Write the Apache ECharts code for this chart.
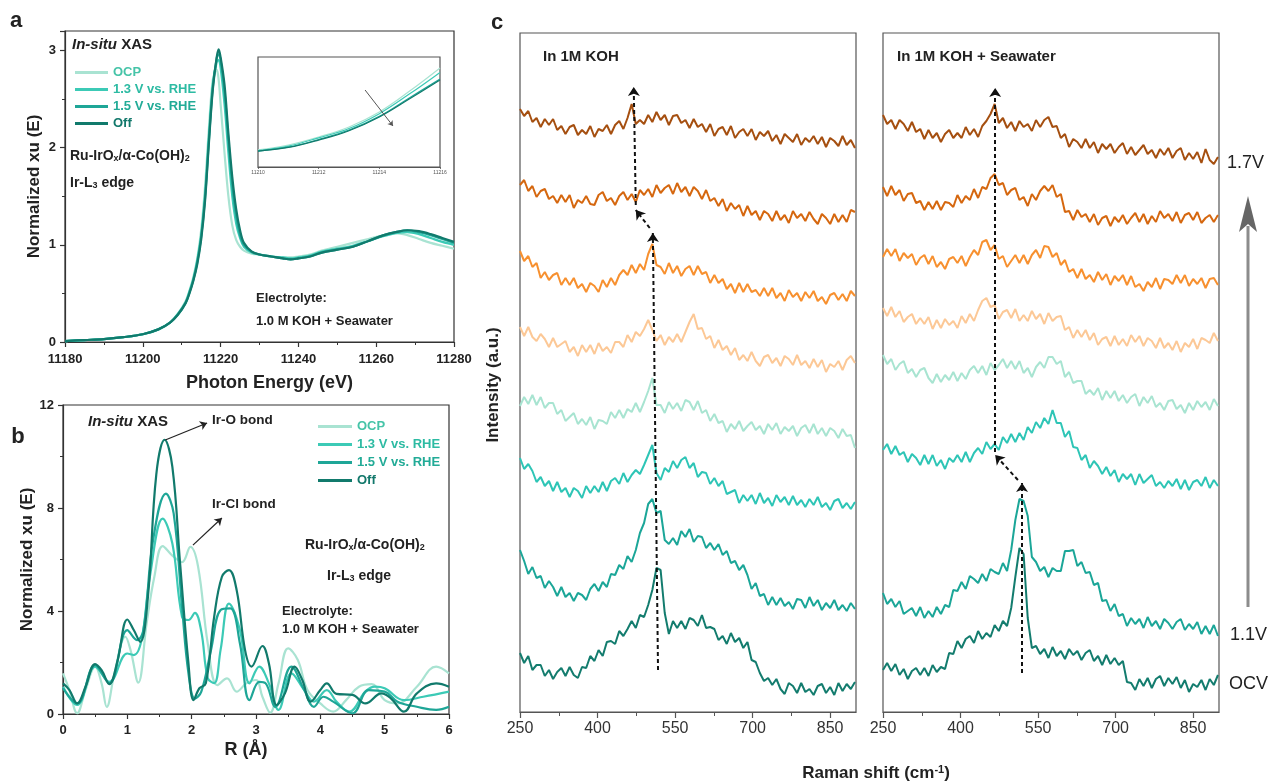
<!DOCTYPE html>
<html>
<head>
<meta charset="utf-8">
<title>In-situ XAS / Raman</title>
<script src="https://cdn.jsdelivr.net/npm/echarts@6/dist/echarts.min.js"></script>
<style>
  html, body { margin: 0; padding: 0; background: #fff; }
  #chart { width: 1272px; height: 783px; }
</style>
</head>
<body>
<div id="chart"></div>
<script>
const FONT = '"Liberation Sans", Arial, Helvetica, sans-serif';

// ---- panel a: Ir L3-edge XANES ----
const xasEnergy = [11180, 11185, 11190, 11195, 11200, 11204, 11207, 11209, 11211, 11212, 11213, 11214, 11215, 11216, 11217, 11218, 11219, 11219.5, 11220, 11221, 11222, 11223, 11224, 11225, 11226, 11228, 11230, 11233, 11236, 11238, 11240, 11243, 11246, 11250, 11254, 11258, 11262, 11265, 11268, 11271, 11274, 11277, 11280];
const xasOCP = [0.01, 0.02, 0.03, 0.05, 0.08, 0.13, 0.2, 0.29, 0.42, 0.53, 0.67, 0.86, 1.15, 1.6, 2.2, 2.7, 2.8, 2.7, 2.45, 1.95, 1.5, 1.2, 1.05, 0.98, 0.94, 0.91, 0.9, 0.88, 0.87, 0.87, 0.88, 0.9, 0.94, 0.98, 1.02, 1.06, 1.1, 1.12, 1.1, 1.06, 1.02, 0.99, 0.96];
const xas13V = [0.01, 0.02, 0.03, 0.05, 0.08, 0.13, 0.2, 0.29, 0.41, 0.52, 0.65, 0.84, 1.1, 1.52, 2.12, 2.65, 2.88, 2.9, 2.82, 2.45, 1.95, 1.5, 1.22, 1.07, 0.98, 0.92, 0.9, 0.88, 0.87, 0.86, 0.87, 0.89, 0.93, 0.96, 0.99, 1.04, 1.09, 1.12, 1.13, 1.11, 1.07, 1.03, 1.0];
const xas15V = [0.01, 0.02, 0.03, 0.05, 0.08, 0.13, 0.2, 0.28, 0.4, 0.51, 0.64, 0.82, 1.08, 1.48, 2.08, 2.62, 2.92, 2.96, 2.9, 2.58, 2.08, 1.62, 1.3, 1.1, 1.0, 0.93, 0.9, 0.88, 0.86, 0.85, 0.86, 0.88, 0.92, 0.95, 0.98, 1.04, 1.1, 1.13, 1.15, 1.13, 1.1, 1.06, 1.02];
const xasOff = [0.01, 0.02, 0.03, 0.05, 0.08, 0.13, 0.2, 0.28, 0.4, 0.5, 0.63, 0.8, 1.05, 1.45, 2.05, 2.6, 2.93, 3.01, 2.93, 2.65, 2.15, 1.7, 1.37, 1.15, 1.02, 0.93, 0.9, 0.88, 0.86, 0.85, 0.86, 0.88, 0.92, 0.95, 0.98, 1.04, 1.1, 1.13, 1.15, 1.14, 1.11, 1.07, 1.03];

// inset (pre-edge zoom)
const insetEnergy = [11210, 11211, 11212, 11213, 11214, 11215, 11216];
const insetOCP = [0.155, 0.2, 0.273, 0.364, 0.5, 0.69, 0.9];
const inset13V = [0.15, 0.19, 0.265, 0.35, 0.485, 0.665, 0.86];
const inset15V = [0.145, 0.18, 0.25, 0.335, 0.46, 0.63, 0.8];
const insetOff = [0.145, 0.178, 0.245, 0.33, 0.455, 0.62, 0.79];

// ---- panel b: FT-EXAFS ----
const ftR_OCP = [0, 0.1, 0.22, 0.35, 0.5, 0.6, 0.68, 0.8, 0.97, 1.05, 1.17, 1.3, 1.42, 1.55, 1.7, 1.85, 1.98, 2.1, 2.25, 2.4, 2.55, 2.7, 2.85, 3.0, 3.1, 3.22, 3.35, 3.5, 3.65, 3.8, 4.0, 4.2, 4.4, 4.6, 4.8, 5.0, 5.2, 5.5, 5.8, 6.0];
const ftOCP = [1.58, 0.93, 0.03, 0.93, 1.84, 1.19, 0.28, 1.58, 3.0, 2.48, 1.22, 3.52, 5.33, 6.52, 6.15, 5.9, 6.49, 5.72, 2.74, 1.12, 1.38, 0.87, 1.19, 1.32, 0.67, 0.05, 1.19, 2.55, 2.1, 0.93, 0.41, 0.09, 0.54, 1.06, 1.16, 0.54, 0.41, 1.06, 1.84, 1.58];
const ftR_13V = [0, 0.22, 0.5, 0.72, 1.0, 1.1, 1.22, 1.35, 1.55, 1.7, 1.85, 1.95, 2.05, 2.15, 2.25, 2.35, 2.45, 2.58, 2.75, 2.9, 3.05, 3.2, 3.35, 3.55, 3.75, 3.9, 4.1, 4.25, 4.45, 4.7, 4.85, 5.0, 5.3, 5.6, 6.0];
const ft13V = [1.06, 0.35, 1.84, 1.25, 2.35, 2.29, 2.87, 5.33, 7.59, 6.62, 3.78, 3.65, 3.93, 3.2, 1.4, 1.2, 2.5, 4.29, 3.26, 1.19, 1.84, 1.19, 0.16, 1.58, 0.93, 0.48, 0.93, 0.48, 0.09, 0.87, 1.06, 1.0, 0.54, 0.67, 0.87];
const ftR_15V = [0, 0.22, 0.5, 0.72, 1.0, 1.15, 1.25, 1.4, 1.6, 1.72, 1.85, 1.95, 2.05, 2.15, 2.3, 2.45, 2.6, 2.75, 2.9, 3.05, 3.15, 3.3, 3.55, 3.75, 3.9, 4.05, 4.2, 4.5, 4.75, 5.0, 5.2, 5.5, 5.8, 6.0];
const ft15V = [1.0, 0.41, 1.9, 1.19, 3.26, 2.87, 3.26, 6.75, 8.56, 7.79, 4.17, 1.58, 0.6, 0.87, 2.48, 4.04, 4.1, 2.74, 0.54, 1.25, 1.19, 0.28, 1.84, 0.93, 0.28, 0.67, 0.48, 0.03, 0.93, 0.87, 0.48, 0.28, 0.16, 0.28];
const ftR_Off = [0, 0.1, 0.22, 0.35, 0.5, 0.6, 0.72, 0.85, 1.0, 1.1, 1.2, 1.32, 1.45, 1.58, 1.7, 1.82, 1.95, 2.03, 2.12, 2.22, 2.35, 2.47, 2.58, 2.7, 2.83, 2.93, 3.1, 3.2, 3.32, 3.45, 3.6, 3.72, 3.85, 4.0, 4.1, 4.25, 4.5, 4.7, 4.95, 5.1, 5.3, 5.5, 5.8, 6.0];
const ftOff = [1.19, 0.93, 0.41, 1.06, 1.94, 1.7, 1.16, 2.1, 3.67, 3.26, 2.8, 4.55, 9.3, 10.65, 9.6, 5.85, 1.97, 0.54, 1.0, 1.19, 3.78, 5.33, 5.59, 4.8, 2.48, 1.84, 2.64, 1.97, 0.35, 0.8, 1.84, 1.32, 0.48, 0.93, 1.19, 0.78, 0.74, 0.41, 0.8, 0.6, 0.09, 0.8, 1.19, 1.06];

// ---- panel c: in-situ Raman (intensity, stacked, a.u.) ----
const ramanShift = [250, 258, 266, 274, 282, 290, 298, 306, 314, 322, 330, 338, 346, 354, 362, 370, 378, 386, 394, 402, 410, 418, 426, 434, 442, 450, 458, 466, 474, 482, 490, 498, 506, 514, 522, 530, 538, 546, 554, 562, 570, 578, 586, 594, 602, 610, 618, 626, 634, 642, 650, 658, 666, 674, 682, 690, 698, 706, 714, 722, 730, 738, 746, 754, 762, 770, 778, 786, 794, 802, 810, 818, 826, 834, 842, 850, 858, 866, 874, 882, 890, 898];
const ramanTicks = [250, 400, 550, 700, 850];
const potentials = ['OCV', '1.1V', '1.2V', '1.3V', '1.4V', '1.5V', '1.6V', '1.7V'];

// in 1M KOH
const kohOCV = [59,49,56,42,47,47,36,42,33,40,44,36,45,37,34,45,44,56,51,62,56,70,71,68,81,76,83,91,84,97,95,107,122,144,142,99,78,91,84,91,83,94,92,86,97,84,85,83,72,76,68,79,70,74,64,70,52,50,39,31,34,27,33,23,18,29,26,19,29,20,23,17,26,28,19,25,17,29,21,28,23,30];
const koh11 = [162,151,138,145,134,136,124,131,125,116,125,115,119,111,119,117,112,123,128,121,130,125,138,137,147,143,156,150,162,179,189,208,213,199,201,172,168,174,167,181,175,183,170,176,175,164,169,162,168,157,161,149,151,142,147,137,123,129,116,118,107,115,107,114,106,110,103,113,112,104,115,106,112,102,109,104,112,102,107,101,109,103];
const koh12 = [254,243,248,241,230,235,226,231,221,230,220,224,215,224,221,214,226,219,226,220,230,221,231,234,228,239,230,237,242,238,247,257,267,239,232,244,240,251,244,252,255,244,249,235,240,239,228,234,226,231,218,220,222,209,217,211,217,208,219,209,214,206,217,210,215,207,216,207,212,205,213,207,215,205,209,202,211,213,204,209,203,210];
const koh13 = [306,315,308,317,307,315,304,309,309,298,302,291,295,299,288,293,287,295,283,292,291,288,300,294,302,294,303,300,309,300,310,321,334,307,307,299,310,303,309,301,312,310,302,311,299,302,291,298,289,291,280,288,283,291,281,286,290,282,286,278,288,282,289,278,285,281,286,276,284,287,279,288,278,284,276,284,281,274,283,276,277,264];
const koh14 = [385,376,385,375,371,378,373,365,374,365,368,371,360,365,356,367,360,367,358,369,361,365,359,370,370,365,377,370,380,376,383,392,382,371,377,367,375,370,378,370,380,390,398,383,384,373,376,364,372,362,366,357,364,352,357,351,360,351,346,355,357,349,354,346,356,353,347,357,347,351,344,353,345,352,340,348,345,351,342,352,356,349];
const koh15 = [461,451,456,445,449,434,440,432,437,439,427,434,427,434,424,428,420,429,426,420,432,425,434,427,437,442,437,447,439,448,442,458,468,447,445,438,449,439,446,436,443,446,437,446,438,440,429,437,429,433,423,428,419,429,420,428,420,422,416,424,416,424,414,419,411,422,415,419,411,420,414,421,411,415,408,417,419,412,418,411,421,416];
const koh16 = [527,532,521,526,515,521,523,513,516,509,517,510,517,504,512,509,516,508,507,517,520,511,514,507,516,520,512,518,510,522,517,523,515,527,519,524,527,518,529,520,525,516,525,521,513,522,511,514,506,513,501,509,503,507,496,506,497,501,492,501,498,491,501,492,497,489,501,494,498,491,500,493,488,498,494,488,498,490,497,490,502,500];
const koh17 = [603,596,601,590,594,585,593,587,593,582,586,578,585,587,577,582,578,586,575,583,581,587,578,587,591,583,594,608,588,592,588,597,590,600,592,597,587,596,597,589,592,584,593,585,588,580,588,576,583,585,577,586,574,580,583,576,583,572,580,576,581,571,577,568,578,574,570,578,567,574,570,576,568,575,565,574,571,566,576,567,572,564];

// in 1M KOH + seawater
const swOCV = [42,49,41,48,37,43,33,41,44,37,44,36,47,40,45,43,59,58,71,64,73,76,69,81,73,79,75,87,81,91,86,104,135,164,158,94,64,66,58,63,54,65,56,61,53,63,57,61,52,59,62,51,56,47,57,48,54,47,51,30,29,22,33,26,34,24,33,36,26,34,28,35,24,32,20,28,25,32,22,33,27,37];
const sw11 = [119,108,113,105,111,98,101,104,96,105,94,101,95,105,98,107,105,122,121,130,123,136,133,129,138,131,143,140,138,149,141,162,192,213,211,196,155,150,141,145,135,144,141,141,161,161,162,146,150,139,140,127,129,111,112,101,108,96,98,86,94,88,93,84,95,86,91,83,93,89,83,90,93,82,88,83,90,78,86,78,87,76];
const sw12 = [262,268,258,266,257,260,250,258,254,247,257,248,257,246,252,243,254,250,257,250,260,250,259,264,258,270,263,268,262,275,269,278,270,279,272,285,279,290,284,294,288,302,289,289,275,281,265,264,252,257,244,251,246,238,245,236,242,230,238,233,238,227,238,229,233,237,226,230,224,231,226,233,223,232,222,230,232,226,235,224,232,226];
const sw13 = [357,348,353,342,348,351,339,343,335,342,344,334,329,338,330,337,332,340,331,339,333,342,346,339,346,337,349,342,347,353,344,351,343,351,339,344,335,345,350,344,355,355,348,351,335,340,329,331,331,318,322,317,324,312,321,314,321,311,317,309,315,318,306,315,309,316,305,309,302,311,312,303,307,299,309,302,311,305,310,302,313,306];
const sw14 = [404,396,405,395,401,390,395,398,388,394,388,395,383,392,384,393,387,391,384,396,389,398,391,402,411,414,405,407,393,400,402,394,403,391,397,391,401,393,398,388,399,391,395,396,382,385,374,382,375,382,372,379,367,373,375,366,376,367,373,366,377,370,376,366,374,371,364,374,364,369,362,371,360,369,365,373,363,374,372,369,379,371];
const sw15 = [455,463,456,463,451,459,454,458,447,454,457,448,456,445,450,443,453,455,449,456,446,455,462,457,470,472,462,467,453,456,445,451,457,449,457,448,457,462,454,466,465,455,459,447,452,440,443,434,443,433,437,430,440,432,438,427,436,431,437,427,436,425,428,421,430,425,434,423,433,432,428,437,429,437,426,433,428,434,424,433,434,427];
const sw16 = [525,516,526,517,522,511,518,519,509,511,502,510,503,511,502,510,509,505,517,509,516,512,523,514,525,523,534,538,527,529,517,522,524,512,515,506,518,512,521,526,521,527,515,518,500,501,492,502,495,498,490,498,487,494,496,486,495,490,497,488,494,499,490,498,488,496,490,501,494,498,491,500,489,497,499,492,500,489,494,497,490,497];
const sw17 = [597,588,592,583,592,588,581,590,580,583,573,582,574,579,570,578,582,574,579,574,585,577,583,575,586,591,598,608,589,594,584,590,581,591,585,588,581,592,585,592,595,585,586,574,578,565,573,570,564,573,564,570,559,568,563,568,559,565,569,558,565,557,562,567,558,562,554,563,557,564,554,561,564,552,559,553,560,549,563,552,548,555];

const kohSpectra = [kohOCV, koh11, koh12, koh13, koh14, koh15, koh16, koh17];
const swSpectra = [swOCV, sw11, sw12, sw13, sw14, sw15, sw16, sw17];

// styles
const xasNames = ['OCP', '1.3 V vs. RHE', '1.5 V vs. RHE', 'Off'];
const xasColors = ['#a9e3d2', '#3ccab6', '#1ea697', '#117a6c'];
const legendTextColors = ['#46c4a8', '#2dbba3', '#22ab97', '#12786b'];
const ramanColors = ['#137c6e', '#1ba698', '#2ec5b6', '#a8e4d1', '#fcc896', '#f7902f', '#d5670f', '#a54f10'];

function pairs(xs, ys) {
  return xs.map((x, i) => [x, ys[i]]);
}

function axis(gridIndex, min, max, interval, label, extra) {
  return Object.assign({
    type: 'value', gridIndex, min, max, interval,
    axisLine: { show: true, onZero: false, lineStyle: { color: '#333', width: 1.2 } },
    axisTick: { show: true, inside: false, length: 5, lineStyle: { color: '#333', width: 1.2 } },
    minorTick: { show: true, splitNumber: 2, length: 3, lineStyle: { color: '#333', width: 1 } },
    splitLine: { show: false },
    minorSplitLine: { show: false },
    axisLabel: label
  }, extra || {});
}

const boldLabel = (margin, fmt) => ({
  fontFamily: FONT, fontWeight: 'bold', fontSize: 13, color: '#222', margin,
  formatter: fmt || (v => String(v))
});
const ramanLabel = {
  fontFamily: FONT, fontSize: 16, color: '#333', margin: 9,
  customValues: ramanTicks,
  formatter: v => (v === 900 ? '' : String(v))
};
const ramanAxisExtra = {
  axisLine: { show: true, lineStyle: { color: '#555', width: 1.2 } },
  axisTick: { show: true, length: 6, customValues: ramanTicks, lineStyle: { color: '#555', width: 1.2 } },
  minorTick: { show: true, splitNumber: 2, length: 4, lineStyle: { color: '#555', width: 1 } }
};

function gridBox(left, top, width, height, color) {
  return {
    left, top, width, height, containLabel: false, outerBoundsMode: 'none',
    show: true, borderColor: color || '#333', borderWidth: 1.2, backgroundColor: '#fff'
  };
}

const series = [];

// panel a
xasNames.forEach((name, i) => {
  series.push({
    name, type: 'line', xAxisIndex: 0, yAxisIndex: 0,
    data: pairs(xasEnergy, [xasOCP, xas13V, xas15V, xasOff][i]),
    showSymbol: false, smooth: 0.35,
    lineStyle: { color: xasColors[i], width: 2.2 }, itemStyle: { color: xasColors[i] }
  });
});
// inset
xasNames.forEach((name, i) => {
  const s = {
    name, type: 'line', xAxisIndex: 1, yAxisIndex: 1,
    data: pairs(insetEnergy, [insetOCP, inset13V, inset15V, insetOff][i]),
    showSymbol: false, smooth: 0.4,
    lineStyle: { color: xasColors[i], width: 1.2 }, itemStyle: { color: xasColors[i] }
  };
  if (i === 3) {
    s.markLine = {
      silent: true, symbol: ['none', 'arrow'], symbolSize: 5, label: { show: false },
      lineStyle: { color: '#555', width: 1, type: 'solid' },
      data: [[{ coord: [11213.53, 0.70] }, { coord: [11214.45, 0.373] }]]
    };
  }
  series.push(s);
});
// panel b
const ftR = [ftR_OCP, ftR_13V, ftR_15V, ftR_Off];
const ftV = [ftOCP, ft13V, ft15V, ftOff];
xasNames.forEach((name, i) => {
  const s = {
    name, type: 'line', xAxisIndex: 2, yAxisIndex: 2,
    data: pairs(ftR[i], ftV[i]),
    showSymbol: false, smooth: 0.4,
    lineStyle: { color: xasColors[i], width: 2.2 }, itemStyle: { color: xasColors[i] }
  };
  if (i === 3) {
    s.markLine = {
      silent: true, symbol: ['none', 'arrow'], symbolSize: 7, label: { show: false },
      lineStyle: { color: '#222', width: 1.2, type: 'solid' },
      data: [
        [{ coord: [1.59, 10.64] }, { coord: [2.24, 11.3] }],
        [{ coord: [2.02, 6.56] }, { coord: [2.47, 7.61] }]
      ]
    };
  }
  series.push(s);
});
// panel c
const dashed = { color: '#111', width: 2, type: [4, 3] };
[kohSpectra, swSpectra].forEach((set, p) => {
  set.forEach((ys, i) => {
    const s = {
      name: (p === 0 ? 'KOH ' : 'KOH+SW ') + potentials[i],
      type: 'line', xAxisIndex: 3 + p, yAxisIndex: 3 + p,
      data: pairs(ramanShift, ys), showSymbol: false,
      lineStyle: { color: ramanColors[i], width: 2 }, itemStyle: { color: ramanColors[i] }
    };
    if (i === 0) {
      const lines = p === 0 ? [
        [{ coord: [517, 42] }, { coord: [507, 479] }],
        [{ coord: [501, 484] }, { coord: [474, 502] }],
        [{ coord: [474, 507] }, { coord: [470, 625] }]
      ] : [
        [{ coord: [519, 39] }, { coord: [519, 229] }],
        [{ coord: [511, 232] }, { coord: [467, 257] }],
        [{ coord: [467, 260] }, { coord: [467, 624] }]
      ];
      s.markLine = {
        silent: true, symbol: ['none', 'arrow'], symbolSize: 9, label: { show: false },
        lineStyle: dashed, data: lines, z: 10
      };
    }
    series.push(s);
  });
});

// text annotations
function txt(x, y, text, size, opts) {
  return {
    type: 'text', x, y, silent: true, z: 50,
    style: Object.assign({
      text, fontFamily: FONT, fontSize: size, fontWeight: 'bold', fill: '#222',
      textAlign: 'left', textVerticalAlign: 'middle'
    }, opts || {})
  };
}
const richFormula = {
  n: { fontFamily: FONT, fontSize: 14, fontWeight: 'bold', fill: '#222' },
  s: { fontFamily: FONT, fontSize: 9, fontWeight: 'bold', fill: '#222', verticalAlign: 'bottom', lineHeight: 8 },
  i: { fontFamily: FONT, fontSize: 15, fontWeight: 'bold', fontStyle: 'italic', fill: '#222' },
  b: { fontFamily: FONT, fontSize: 15, fontWeight: 'bold', fill: '#222' }
};
const formula = '{n|Ru-IrO}{s|x}{n|/α-Co(OH)}{s|2}';
const edge = '{n|Ir-L}{s|3}{n| edge}';
const insitu = '{i|In-situ}{b| XAS}';

const graphics = [
  txt(16, 21, 'a', 22, { textAlign: 'center' }),
  txt(72, 45, insitu, 15, { rich: richFormula }),
  txt(70, 156, formula, 14, { rich: richFormula }),
  txt(70, 183, edge, 14, { rich: richFormula }),
  txt(256, 298, 'Electrolyte:', 13),
  txt(256, 321, '1.0 M KOH + Seawater', 13),

  txt(18, 437, 'b', 22, { textAlign: 'center' }),
  txt(88, 422, insitu, 15, { rich: richFormula }),
  txt(212, 420, 'Ir-O bond', 13.5),
  txt(212, 504, 'Ir-Cl bond', 13.5),
  txt(305, 545, formula, 14, { rich: richFormula }),
  txt(327, 576, edge, 14, { rich: richFormula }),
  txt(282, 611, 'Electrolyte:', 13),
  txt(282, 629, '1.0 M KOH + Seawater', 13),

  txt(497, 23, 'c', 22, { textAlign: 'center' }),
  txt(543, 57, 'In 1M KOH', 15),
  txt(897, 57, 'In 1M KOH + Seawater', 15),
  txt(1227, 163, '1.7V', 18, { fontWeight: 'normal' }),
  txt(1230, 635, '1.1V', 18, { fontWeight: 'normal' }),
  txt(1229, 684, 'OCV', 18, { fontWeight: 'normal' }),
  txt(876, 773, '{n|Raman shift (cm}{p|-1}{n|)}', 17, {
    textAlign: 'center',
    rich: {
      n: { fontFamily: FONT, fontSize: 17, fontWeight: 'bold', fill: '#222' },
      p: { fontFamily: FONT, fontSize: 11, fontWeight: 'bold', fill: '#222', verticalAlign: 'top', lineHeight: 8 }
    }
  }),
  Object.assign(txt(493, 385, 'Intensity (a.u.)', 17, { textAlign: 'center' }), { rotation: Math.PI / 2 }),

  // potential direction arrow
  { type: 'line', silent: true, shape: { x1: 1248, y1: 607, x2: 1248, y2: 226 },
    style: { stroke: '#8c8c8c', lineWidth: 3 } },
  { type: 'polygon', silent: true, shape: { points: [[1239, 232], [1248, 196], [1257, 232], [1248, 224]] },
    style: { fill: '#666' } }
];

const chart = echarts.init(document.getElementById('chart'));
chart.setOption({
  animation: false,
  backgroundColor: '#fff',
  grid: [
    gridBox(65, 31, 389, 311),
    gridBox(258, 57, 182, 110, '#555'),
    gridBox(63, 405, 386, 309),
    gridBox(520, 33, 336, 679, '#555'),
    gridBox(883, 33, 336, 679, '#555')
  ],
  legend: [
    {
      left: 70, top: 61, orient: 'vertical', selectedMode: false,
      icon: 'rect', itemWidth: 33, itemHeight: 3, itemGap: 4,
      textStyle: { fontFamily: FONT, fontWeight: 'bold', fontSize: 13 },
      data: xasNames.map((n, i) => ({ name: n, textStyle: { color: legendTextColors[i] } }))
    },
    {
      left: 313, top: 415, orient: 'vertical', selectedMode: false,
      icon: 'rect', itemWidth: 34, itemHeight: 3, itemGap: 5,
      textStyle: { fontFamily: FONT, fontWeight: 'bold', fontSize: 13 },
      data: xasNames.map((n, i) => ({ name: n, textStyle: { color: legendTextColors[i] } }))
    }
  ],
  xAxis: [
    axis(0, 11180, 11280, 20, boldLabel(11), {
      name: 'Photon Energy (eV)', nameLocation: 'middle', nameGap: 32,
      nameTextStyle: { fontFamily: FONT, fontWeight: 'bold', fontSize: 18, color: '#222', padding: [0, 0, 0, 20] }
    }),
    axis(1, 11210, 11216, 2, { fontFamily: FONT, fontSize: 5, color: '#555', margin: 3, formatter: v => String(v) }, {
      axisLine: { show: true, lineStyle: { color: '#555', width: 1 } },
      axisTick: { show: true, length: 2, lineStyle: { color: '#555', width: 0.8 } },
      minorTick: { show: false }
    }),
    axis(2, 0, 6, 1, boldLabel(10), {
      name: 'R (Å)', nameLocation: 'middle', nameGap: 27,
      nameTextStyle: { fontFamily: FONT, fontWeight: 'bold', fontSize: 18, color: '#222', padding: [0, 20, 0, 0] }
    }),
    axis(3, 250, 900, 150, ramanLabel, ramanAxisExtra),
    axis(4, 250, 900, 150, ramanLabel, ramanAxisExtra)
  ],
  yAxis: [
    axis(0, 0, 3.2, 1, boldLabel(9, v => (Number.isInteger(v) ? String(v) : '')), {
      name: 'Normalized xu (E)', nameLocation: 'middle', nameGap: 22,
      nameTextStyle: { fontFamily: FONT, fontWeight: 'bold', fontSize: 17, color: '#222' }
    }),
    { type: 'value', gridIndex: 1, min: 0, max: 1, show: false },
    axis(2, 0, 12, 4, boldLabel(9), {
      name: 'Normalized xu (E)', nameLocation: 'middle', nameGap: 24,
      nameTextStyle: { fontFamily: FONT, fontWeight: 'bold', fontSize: 17, color: '#222' }
    }),
    { type: 'value', gridIndex: 3, min: 0, max: 679, show: false },
    { type: 'value', gridIndex: 4, min: 0, max: 679, show: false }
  ],
  series,
  graphic: graphics
});
</script>
</body>
</html>
